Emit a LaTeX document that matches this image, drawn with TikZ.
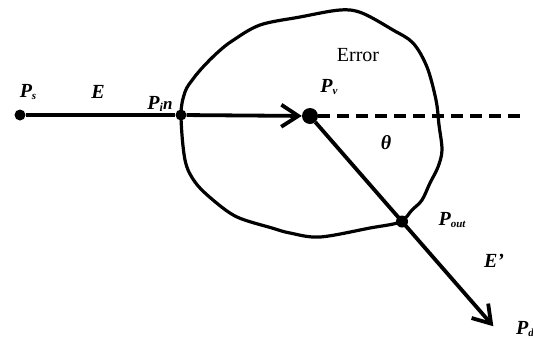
\documentclass[tikz,border=0pt]{standalone}
\usepackage{fontspec}
\setmainfont{Liberation Serif}
\usetikzlibrary{arrows.meta,positioning,calc}
\newcommand{\pnt}[1]{P\raisebox{-0.3ex}{\fontsize{11}{11}\selectfont #1}}
\tikzset{
  dot/.style={circle, fill=black, inner sep=0pt, minimum size=11pt},
  bigdot/.style={dot, minimum size=16pt},
  lbl/.style={inner sep=0pt, font=\fontsize{20}{20}\selectfont\bfseries\itshape},
  ray/.style={line width=3.8pt, -{Straight Barb[length=17pt, width=22pt, line width=3.8pt]}},
  ext/.style={line width=3.8pt, dash pattern=on 12pt off 7pt},
  rim/.style={line width=3.2pt, line join=round}
}

\begin{document}
\begin{tikzpicture}[x=1pt, y=-1pt]
  \useasboundingbox (0,0) rectangle (533,338);
  % error region
  \draw[rim] plot[smooth cycle, tension=0.55] coordinates {
    (181,115) (185,92) (193,79) (203,67) (217,53) (232,41) (260,25)
    (300,17) (340,10) (362,13) (393,30) (413,43) (427,67) (436,100)
    (439,125) (442,150) (438,167) (430,183) (422,200) (412,210)
    (400,222) (370,228) (320,237) (290,233) (272,228) (237,217)
    (213,200) (195,182) (185,160)};

  \node[dot] (ps) at (20,115) {};
  \node[dot] (pin) at (181,115) {};
  \node[bigdot] (pv) at (310,116) {};
  \coordinate (pd) at (494,327);
  \coordinate (dend) at (524,116);
  \node[dot, minimum size=12pt] (pout) at ($(pv)!0.5!(pd)$) {};

  \draw[line width=3.8pt] (ps) -- (pin);
  \draw[ray] (pin) -- (pv);
  \draw[ext] (pv) -- (dend);
  \draw[ray, shorten >=1pt] (pv) -- (pd);

  \node[lbl] (lps) at (28,92) {\pnt{s}};
  \node[lbl] (le) at (98,92) {E};
  \node[lbl] (lpin) at (160,104) {P\raisebox{-0.3ex}{\fontsize{12}{12}\selectfont i}\fontsize{17}{17}\selectfont n};
  \node[lbl] (lpv) at (329,87) {\pnt{v}};
  \node[font=\fontsize{20}{20}\selectfont] (lerr) at (358,55) {Error};
  \node[lbl] (lth) at (386,143) {θ};
  \node[lbl] (lpout) at (452,220) {\pnt{out}};
  \node[lbl] (lep) at (494,261) {E’};
  \node[lbl, anchor=west] (lpd) at (516,329) {\pnt{d}};
\end{tikzpicture}
\end{document}
